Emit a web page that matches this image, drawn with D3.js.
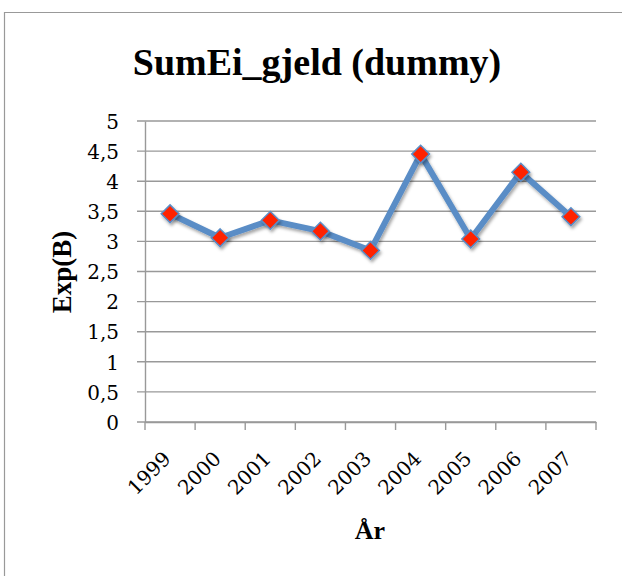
<!DOCTYPE html>
<html>
    <head>
        <meta charset="utf-8">
        <script src="https://d3js.org/d3.v7.min.js"></script>
        <style>
            body { margin:0; background:#fff; }
        </style>
    </head>
    <body>
        <script>
            var years = ["1999", "2000", "2001", "2002", "2003", "2004", "2005", "2006", "2007"];
            var expB = [3.46, 3.06, 3.35, 3.17, 2.85, 4.45, 3.04, 4.15, 3.41];
            var yTicks = [0, 0.5, 1, 1.5, 2, 2.5, 3, 3.5, 4, 4.5, 5];

            var width = 622, height = 576;
            var margin = {left: 145, right: 26, top: 121, bottom: 154};
            var serif = "'Liberation Serif', serif";
            var tickFont = "'DejaVu Serif', serif";

            var svg = d3.select("body").append("svg")
                    .attr("width", width)
                    .attr("height", height);

            var defs = svg.append("defs");
            var f = defs.append("filter").attr("id", "shadow")
                    .attr("x", "-50%").attr("y", "-50%").attr("width", "200%").attr("height", "200%");
            f.append("feDropShadow").attr("dx", 1.5).attr("dy", 2.5)
                    .attr("stdDeviation", 1.8).attr("flood-color", "#000").attr("flood-opacity", 0.35);

            // chart frame (only left and top are inside the picture)
            svg.append("path")
                    .attr("d", "M4.5,580V12.5H630")
                    .attr("fill", "none")
                    .attr("stroke", "#999")
                    .attr("stroke-width", 1.2);

            var x = d3.scaleBand()
                    .domain(years)
                    .range([margin.left, width - margin.right]);

            var y = d3.scaleLinear()
                    .domain([0, 5])
                    .range([height - margin.bottom, margin.top]);

            // gridlines
            svg.append("g")
                    .selectAll("line")
                    .data(yTicks)
                    .enter().append("line")
                    .attr("x1", margin.left - 8)
                    .attr("x2", width - margin.right)
                    .attr("y1", function (d) { return y(d); })
                    .attr("y2", function (d) { return y(d); })
                    .attr("stroke", "#999")
                    .attr("stroke-width", 1.4);

            // y axis
            var yAxis = d3.axisLeft(y)
                    .tickValues(yTicks)
                    .tickSize(0)
                    .tickPadding(26)
                    .tickFormat(function (d) { return String(d).replace(".", ","); });

            var gy = svg.append("g")
                    .attr("transform", "translate(" + margin.left + ",0)")
                    .call(yAxis);
            gy.select(".domain").attr("stroke", "#999").attr("stroke-width", 1.4);
            gy.selectAll("text")
                    .attr("fill", "#000")
                    .attr("dy", "0.36em")
                    .style("font-family", tickFont)
                    .style("font-size", "20px");

            // x axis
            var xAxis = d3.axisBottom(x).tickSize(0).tickFormat("");
            var gx = svg.append("g")
                    .attr("transform", "translate(0," + y(0) + ")")
                    .call(xAxis);
            gx.select(".domain").attr("stroke", "#999").attr("stroke-width", 1.4);

            var edges = years.map(function (d) { return x(d); }).concat([x.range()[1]]);
            gx.selectAll(".edge")
                    .data(edges)
                    .enter().append("line")
                    .attr("x1", function (d) { return d; })
                    .attr("x2", function (d) { return d; })
                    .attr("y1", 0)
                    .attr("y2", 8)
                    .attr("stroke", "#999")
                    .attr("stroke-width", 1.4);

            svg.append("g")
                    .selectAll("text")
                    .data(years)
                    .enter().append("text")
                    .attr("text-anchor", "end")
                    .attr("transform", function (d) {
                        return "translate(" + (x(d) + x.bandwidth() / 2 + 2) + "," + (y(0) + 38) + ") rotate(-45)";
                    })
                    .style("font-family", tickFont)
                    .style("font-size", "20px")
                    .text(function (d) { return d; });

            // line
            var line = d3.line()
                    .x(function (d, i) { return x(years[i]) + x.bandwidth() / 2; })
                    .y(function (d) { return y(d); });

            svg.append("path")
                    .datum(expB)
                    .attr("d", line)
                    .attr("fill", "none")
                    .attr("stroke", "#5a8dc6")
                    .attr("stroke-width", 6)
                    .attr("stroke-linejoin", "round")
                    .attr("filter", "url(#shadow)");

            var diamond = d3.symbol().type(d3.symbolDiamond2).size(200);
            svg.append("g")
                    .selectAll("path")
                    .data(expB)
                    .enter().append("path")
                    .attr("d", diamond)
                    .attr("transform", function (d, i) {
                        return "translate(" + (x(years[i]) + x.bandwidth() / 2) + "," + y(d) + ")";
                    })
                    .attr("fill", "#ff2200")
                    .attr("stroke", "#5a8dc6")
                    .attr("stroke-width", 1.5)
                    .attr("filter", "url(#shadow)");

            // titles
            svg.append("text")
                    .attr("x", 317)
                    .attr("y", 75)
                    .attr("text-anchor", "middle")
                    .style("font-family", serif)
                    .style("font-size", "38px")
                    .style("font-weight", "bold")
                    .text("SumEi_gjeld (dummy)");

            svg.append("text")
                    .attr("transform", "translate(71,272) rotate(-90)")
                    .attr("text-anchor", "middle")
                    .style("font-family", serif)
                    .style("font-size", "27px")
                    .style("font-weight", "bold")
                    .text("Exp(B)");

            svg.append("text")
                    .attr("x", 370)
                    .attr("y", 539)
                    .attr("text-anchor", "middle")
                    .style("font-family", serif)
                    .style("font-size", "26px")
                    .style("font-weight", "bold")
                    .text("År");
        </script>
    </body>
</html>
